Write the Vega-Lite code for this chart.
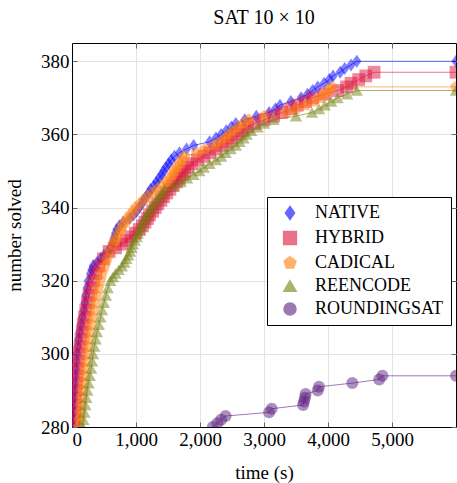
{
  "$schema": "https://vega.github.io/schema/vega-lite/v6.json",
  "autosize": "none",
  "width": 384,
  "height": 384,
  "padding": {"left": 72, "top": 43, "right": 1, "bottom": 56},
  "background": "white",
  "title": {"text": "SAT 10 × 10", "font": "Liberation Serif", "fontSize": 20, "fontWeight": "normal", "color": "black", "offset": 15, "anchor": "middle"},
  "config": {
    "view": {"stroke": "black", "strokeWidth": 1},
    "axis": {"labelFont": "Liberation Serif", "labelFontSize": 19, "labelColor": "black", "titleFont": "Liberation Serif", "titleFontSize": 19, "titleFontWeight": "normal", "titleColor": "black", "gridColor": "#e3e3e3", "gridWidth": 1, "domainColor": "black", "tickColor": "#666", "tickSize": -5, "labelPadding": 8},
    "legend": {"orient": "none", "legendX": 195, "legendY": 154, "strokeColor": "black", "fillColor": "white", "padding": 7, "cornerRadius": 0, "labelFont": "Liberation Serif", "labelFontSize": 18, "labelColor": "black", "symbolSize": 144, "labelOffset": 16, "rowPadding": 5, "symbolOffset": 7}
  },
  "data": {"values": [
    {"s":"Native","t":15,"n":280},{"s":"Native","t":20,"n":282},{"s":"Native","t":25,"n":284},{"s":"Native","t":30,"n":286},{"s":"Native","t":35,"n":288},{"s":"Native","t":40,"n":290},{"s":"Native","t":48,"n":292},{"s":"Native","t":55,"n":294},{"s":"Native","t":62,"n":296},{"s":"Native","t":70,"n":298},{"s":"Native","t":80,"n":300},{"s":"Native","t":92,"n":302},{"s":"Native","t":105,"n":304},{"s":"Native","t":120,"n":306},{"s":"Native","t":140,"n":308},{"s":"Native","t":160,"n":310},{"s":"Native","t":185,"n":312},{"s":"Native","t":200,"n":314},{"s":"Native","t":215,"n":316},{"s":"Native","t":235,"n":318},{"s":"Native","t":255,"n":320},{"s":"Native","t":290,"n":322},{"s":"Native","t":310,"n":323},{"s":"Native","t":330,"n":324},{"s":"Native","t":390,"n":325},{"s":"Native","t":450,"n":326},{"s":"Native","t":500,"n":327},{"s":"Native","t":570,"n":328},{"s":"Native","t":605,"n":329},{"s":"Native","t":630,"n":330},{"s":"Native","t":650,"n":331},{"s":"Native","t":665,"n":332},{"s":"Native","t":680,"n":333},{"s":"Native","t":700,"n":334},{"s":"Native","t":740,"n":335},{"s":"Native","t":800,"n":336},{"s":"Native","t":900,"n":337},{"s":"Native","t":960,"n":338},{"s":"Native","t":1010,"n":339},{"s":"Native","t":1050,"n":340},{"s":"Native","t":1090,"n":341},{"s":"Native","t":1120,"n":342},{"s":"Native","t":1160,"n":343},{"s":"Native","t":1200,"n":344},{"s":"Native","t":1230,"n":345},{"s":"Native","t":1280,"n":346},{"s":"Native","t":1320,"n":347},{"s":"Native","t":1360,"n":348},{"s":"Native","t":1400,"n":349},{"s":"Native","t":1430,"n":350},{"s":"Native","t":1470,"n":351},{"s":"Native","t":1510,"n":352},{"s":"Native","t":1550,"n":353},{"s":"Native","t":1600,"n":354},{"s":"Native","t":1680,"n":355},{"s":"Native","t":1790,"n":356},{"s":"Native","t":1900,"n":357},{"s":"Native","t":2150,"n":358},{"s":"Native","t":2250,"n":359},{"s":"Native","t":2330,"n":360},{"s":"Native","t":2410,"n":361},{"s":"Native","t":2490,"n":362},{"s":"Native","t":2560,"n":363},{"s":"Native","t":2700,"n":364},{"s":"Native","t":2880,"n":365},{"s":"Native","t":3080,"n":366},{"s":"Native","t":3180,"n":367},{"s":"Native","t":3250,"n":368},{"s":"Native","t":3420,"n":369},{"s":"Native","t":3580,"n":370},{"s":"Native","t":3680,"n":371},{"s":"Native","t":3760,"n":372},{"s":"Native","t":3840,"n":373},{"s":"Native","t":3940,"n":374},{"s":"Native","t":4020,"n":375},{"s":"Native","t":4080,"n":376},{"s":"Native","t":4190,"n":377},{"s":"Native","t":4260,"n":378},{"s":"Native","t":4360,"n":379},{"s":"Native","t":4450,"n":380},{"s":"Native","t":6000,"n":380},
    {"s":"Hybrid","t":30,"n":280},{"s":"Hybrid","t":35,"n":282},{"s":"Hybrid","t":40,"n":284},{"s":"Hybrid","t":45,"n":286},{"s":"Hybrid","t":50,"n":288},{"s":"Hybrid","t":55,"n":290},{"s":"Hybrid","t":65,"n":292},{"s":"Hybrid","t":75,"n":294},{"s":"Hybrid","t":85,"n":296},{"s":"Hybrid","t":95,"n":298},{"s":"Hybrid","t":110,"n":300},{"s":"Hybrid","t":125,"n":302},{"s":"Hybrid","t":140,"n":304},{"s":"Hybrid","t":160,"n":306},{"s":"Hybrid","t":175,"n":308},{"s":"Hybrid","t":195,"n":310},{"s":"Hybrid","t":215,"n":312},{"s":"Hybrid","t":240,"n":314},{"s":"Hybrid","t":265,"n":316},{"s":"Hybrid","t":295,"n":318},{"s":"Hybrid","t":330,"n":320},{"s":"Hybrid","t":370,"n":322},{"s":"Hybrid","t":420,"n":324},{"s":"Hybrid","t":490,"n":326},{"s":"Hybrid","t":580,"n":328},{"s":"Hybrid","t":680,"n":329},{"s":"Hybrid","t":780,"n":330},{"s":"Hybrid","t":850,"n":331},{"s":"Hybrid","t":920,"n":332},{"s":"Hybrid","t":990,"n":333},{"s":"Hybrid","t":1050,"n":334},{"s":"Hybrid","t":1100,"n":335},{"s":"Hybrid","t":1140,"n":336},{"s":"Hybrid","t":1180,"n":337},{"s":"Hybrid","t":1210,"n":338},{"s":"Hybrid","t":1260,"n":339},{"s":"Hybrid","t":1300,"n":340},{"s":"Hybrid","t":1340,"n":341},{"s":"Hybrid","t":1390,"n":342},{"s":"Hybrid","t":1430,"n":343},{"s":"Hybrid","t":1480,"n":344},{"s":"Hybrid","t":1530,"n":345},{"s":"Hybrid","t":1580,"n":346},{"s":"Hybrid","t":1630,"n":347},{"s":"Hybrid","t":1680,"n":348},{"s":"Hybrid","t":1720,"n":349},{"s":"Hybrid","t":1760,"n":350},{"s":"Hybrid","t":1810,"n":351},{"s":"Hybrid","t":1870,"n":352},{"s":"Hybrid","t":1960,"n":353},{"s":"Hybrid","t":2060,"n":354},{"s":"Hybrid","t":2150,"n":355},{"s":"Hybrid","t":2250,"n":356},{"s":"Hybrid","t":2350,"n":357},{"s":"Hybrid","t":2430,"n":358},{"s":"Hybrid","t":2500,"n":359},{"s":"Hybrid","t":2580,"n":360},{"s":"Hybrid","t":2660,"n":361},{"s":"Hybrid","t":2740,"n":362},{"s":"Hybrid","t":2850,"n":363},{"s":"Hybrid","t":3000,"n":364},{"s":"Hybrid","t":3150,"n":365},{"s":"Hybrid","t":3280,"n":366},{"s":"Hybrid","t":3420,"n":367},{"s":"Hybrid","t":3520,"n":368},{"s":"Hybrid","t":3650,"n":369},{"s":"Hybrid","t":3760,"n":370},{"s":"Hybrid","t":3950,"n":371},{"s":"Hybrid","t":4150,"n":372},{"s":"Hybrid","t":4290,"n":373},{"s":"Hybrid","t":4360,"n":374},{"s":"Hybrid","t":4480,"n":375},{"s":"Hybrid","t":4590,"n":376},{"s":"Hybrid","t":4720,"n":377},{"s":"Hybrid","t":6000,"n":377},
    {"s":"CaDiCaL","t":110,"n":280},{"s":"CaDiCaL","t":120,"n":282},{"s":"CaDiCaL","t":130,"n":284},{"s":"CaDiCaL","t":140,"n":286},{"s":"CaDiCaL","t":150,"n":288},{"s":"CaDiCaL","t":165,"n":290},{"s":"CaDiCaL","t":175,"n":292},{"s":"CaDiCaL","t":190,"n":294},{"s":"CaDiCaL","t":200,"n":296},{"s":"CaDiCaL","t":215,"n":298},{"s":"CaDiCaL","t":230,"n":300},{"s":"CaDiCaL","t":245,"n":302},{"s":"CaDiCaL","t":260,"n":304},{"s":"CaDiCaL","t":280,"n":306},{"s":"CaDiCaL","t":300,"n":308},{"s":"CaDiCaL","t":320,"n":310},{"s":"CaDiCaL","t":340,"n":312},{"s":"CaDiCaL","t":360,"n":314},{"s":"CaDiCaL","t":385,"n":316},{"s":"CaDiCaL","t":410,"n":318},{"s":"CaDiCaL","t":440,"n":320},{"s":"CaDiCaL","t":470,"n":322},{"s":"CaDiCaL","t":510,"n":324},{"s":"CaDiCaL","t":550,"n":326},{"s":"CaDiCaL","t":590,"n":328},{"s":"CaDiCaL","t":640,"n":330},{"s":"CaDiCaL","t":670,"n":331},{"s":"CaDiCaL","t":700,"n":332},{"s":"CaDiCaL","t":730,"n":333},{"s":"CaDiCaL","t":760,"n":334},{"s":"CaDiCaL","t":790,"n":335},{"s":"CaDiCaL","t":830,"n":336},{"s":"CaDiCaL","t":870,"n":337},{"s":"CaDiCaL","t":910,"n":338},{"s":"CaDiCaL","t":960,"n":339},{"s":"CaDiCaL","t":1000,"n":340},{"s":"CaDiCaL","t":1060,"n":341},{"s":"CaDiCaL","t":1120,"n":342},{"s":"CaDiCaL","t":1180,"n":343},{"s":"CaDiCaL","t":1250,"n":344},{"s":"CaDiCaL","t":1330,"n":345},{"s":"CaDiCaL","t":1420,"n":346},{"s":"CaDiCaL","t":1480,"n":347},{"s":"CaDiCaL","t":1530,"n":348},{"s":"CaDiCaL","t":1570,"n":349},{"s":"CaDiCaL","t":1600,"n":350},{"s":"CaDiCaL","t":1640,"n":351},{"s":"CaDiCaL","t":1680,"n":352},{"s":"CaDiCaL","t":1720,"n":353},{"s":"CaDiCaL","t":1760,"n":354},{"s":"CaDiCaL","t":1950,"n":355},{"s":"CaDiCaL","t":2080,"n":356},{"s":"CaDiCaL","t":2230,"n":357},{"s":"CaDiCaL","t":2330,"n":358},{"s":"CaDiCaL","t":2400,"n":359},{"s":"CaDiCaL","t":2460,"n":360},{"s":"CaDiCaL","t":2530,"n":361},{"s":"CaDiCaL","t":2600,"n":362},{"s":"CaDiCaL","t":2680,"n":363},{"s":"CaDiCaL","t":2760,"n":364},{"s":"CaDiCaL","t":3000,"n":365},{"s":"CaDiCaL","t":3350,"n":366},{"s":"CaDiCaL","t":3500,"n":367},{"s":"CaDiCaL","t":3650,"n":368},{"s":"CaDiCaL","t":3780,"n":369},{"s":"CaDiCaL","t":3880,"n":370},{"s":"CaDiCaL","t":3950,"n":371},{"s":"CaDiCaL","t":4010,"n":372},{"s":"CaDiCaL","t":4060,"n":373},{"s":"CaDiCaL","t":6000,"n":373},
    {"s":"ReEncode","t":165,"n":280},{"s":"ReEncode","t":180,"n":282},{"s":"ReEncode","t":195,"n":284},{"s":"ReEncode","t":210,"n":286},{"s":"ReEncode","t":225,"n":288},{"s":"ReEncode","t":240,"n":290},{"s":"ReEncode","t":260,"n":292},{"s":"ReEncode","t":280,"n":294},{"s":"ReEncode","t":300,"n":296},{"s":"ReEncode","t":315,"n":298},{"s":"ReEncode","t":330,"n":300},{"s":"ReEncode","t":350,"n":302},{"s":"ReEncode","t":370,"n":304},{"s":"ReEncode","t":390,"n":306},{"s":"ReEncode","t":420,"n":308},{"s":"ReEncode","t":445,"n":310},{"s":"ReEncode","t":470,"n":312},{"s":"ReEncode","t":500,"n":314},{"s":"ReEncode","t":530,"n":316},{"s":"ReEncode","t":560,"n":318},{"s":"ReEncode","t":600,"n":320},{"s":"ReEncode","t":640,"n":321},{"s":"ReEncode","t":680,"n":322},{"s":"ReEncode","t":730,"n":323},{"s":"ReEncode","t":780,"n":324},{"s":"ReEncode","t":820,"n":325},{"s":"ReEncode","t":850,"n":326},{"s":"ReEncode","t":880,"n":327},{"s":"ReEncode","t":910,"n":328},{"s":"ReEncode","t":930,"n":329},{"s":"ReEncode","t":950,"n":330},{"s":"ReEncode","t":980,"n":331},{"s":"ReEncode","t":1010,"n":332},{"s":"ReEncode","t":1030,"n":333},{"s":"ReEncode","t":1060,"n":334},{"s":"ReEncode","t":1080,"n":335},{"s":"ReEncode","t":1110,"n":336},{"s":"ReEncode","t":1140,"n":337},{"s":"ReEncode","t":1170,"n":338},{"s":"ReEncode","t":1200,"n":339},{"s":"ReEncode","t":1240,"n":340},{"s":"ReEncode","t":1280,"n":341},{"s":"ReEncode","t":1320,"n":342},{"s":"ReEncode","t":1370,"n":343},{"s":"ReEncode","t":1410,"n":344},{"s":"ReEncode","t":1450,"n":345},{"s":"ReEncode","t":1580,"n":346},{"s":"ReEncode","t":1700,"n":347},{"s":"ReEncode","t":1800,"n":348},{"s":"ReEncode","t":1900,"n":349},{"s":"ReEncode","t":1990,"n":350},{"s":"ReEncode","t":2060,"n":351},{"s":"ReEncode","t":2150,"n":352},{"s":"ReEncode","t":2250,"n":353},{"s":"ReEncode","t":2330,"n":354},{"s":"ReEncode","t":2400,"n":355},{"s":"ReEncode","t":2480,"n":356},{"s":"ReEncode","t":2560,"n":357},{"s":"ReEncode","t":2620,"n":358},{"s":"ReEncode","t":2680,"n":359},{"s":"ReEncode","t":2730,"n":360},{"s":"ReEncode","t":2800,"n":361},{"s":"ReEncode","t":2900,"n":362},{"s":"ReEncode","t":3000,"n":363},{"s":"ReEncode","t":3150,"n":364},{"s":"ReEncode","t":3500,"n":365},{"s":"ReEncode","t":3750,"n":366},{"s":"ReEncode","t":3860,"n":367},{"s":"ReEncode","t":3950,"n":368},{"s":"ReEncode","t":4050,"n":369},{"s":"ReEncode","t":4150,"n":370},{"s":"ReEncode","t":4300,"n":371},{"s":"ReEncode","t":4450,"n":372},{"s":"ReEncode","t":6000,"n":372},
    {"s":"RoundingSAT","t":2200,"n":280},{"s":"RoundingSAT","t":2270,"n":281},{"s":"RoundingSAT","t":2330,"n":282},{"s":"RoundingSAT","t":2400,"n":283},{"s":"RoundingSAT","t":3080,"n":284},{"s":"RoundingSAT","t":3120,"n":285},{"s":"RoundingSAT","t":3610,"n":286},{"s":"RoundingSAT","t":3625,"n":287},{"s":"RoundingSAT","t":3640,"n":288},{"s":"RoundingSAT","t":3650,"n":289},{"s":"RoundingSAT","t":3840,"n":290},{"s":"RoundingSAT","t":3860,"n":291},{"s":"RoundingSAT","t":4380,"n":292},{"s":"RoundingSAT","t":4800,"n":293},{"s":"RoundingSAT","t":4850,"n":294},{"s":"RoundingSAT","t":6000,"n":294}
  ]},
  "layer": [
    {
      "mark": {"type": "line", "strokeWidth": 1, "opacity": 0.6, "clip": true},
      "encoding": {
        "x": {"field": "t", "type": "quantitative", "scale": {"domain": [0, 6000], "nice": false}, "axis": {"title": "time (s)", "values": [0, 1000, 2000, 3000, 4000, 5000], "labelExpr": "format(datum.value, ',')", "grid": true, "titlePadding": 14}},
        "y": {"field": "n", "type": "quantitative", "scale": {"domain": [280, 385], "nice": false, "zero": false}, "axis": {"title": "number solved", "values": [280, 300, 320, 340, 360, 380], "grid": true, "titlePadding": 16}},
        "color": {"field": "s", "type": "nominal", "title": null, "scale": {"domain": ["Native", "Hybrid", "CaDiCaL", "ReEncode", "RoundingSAT"], "range": ["#0000ff", "#dc143c", "#ff7f0e", "#738010", "#5b1f80"]}},
        "detail": {"field": "s"},
        "order": {"field": "n", "type": "quantitative"}
      }
    },
    {
      "mark": {"type": "point", "filled": true, "opacity": 0.5, "strokeWidth": 0, "clip": true},
      "encoding": {
        "x": {"field": "t", "type": "quantitative", "axis": {"orient": "top", "labels": false, "title": null, "grid": false, "domain": false, "values": [0, 1000, 2000, 3000, 4000, 5000]}},
        "y": {"field": "n", "type": "quantitative", "axis": {"orient": "right", "labels": false, "title": null, "grid": false, "domain": false, "values": [280, 300, 320, 340, 360, 380]}},
        "color": {"field": "s", "type": "nominal", "title": null,
          "legend": {"title": null, "labelExpr": "upper(datum.label)",
            "encode": {"symbols": {"update": {
              "fill": {"scale": "color", "field": "value"},
              "stroke": {"scale": "color", "field": "value"},
              "strokeWidth": {"value": 0.8},
              "opacity": {"value": 0.55},
              "shape": {"signal": "datum.value == 'Native' ? 'M-2.8,0L2.8,0M0,-1L0.7,0L0,1L-0.7,0Z' : datum.value == 'Hybrid' ? 'M-2.8,0L2.8,0M-0.85,-0.85L0.85,-0.85L0.85,0.85L-0.85,0.85Z' : datum.value == 'CaDiCaL' ? 'M-2.8,0L2.8,0M0,-0.95L0.9,-0.29L0.56,0.77L-0.56,0.77L-0.9,-0.29Z' : datum.value == 'ReEncode' ? 'M-2.8,0L2.8,0M0,-0.85L0.95,0.75L-0.95,0.75Z' : 'M-2.8,0L2.8,0M-0.9,0A0.9,0.9 0 1,1 0.9,0A0.9,0.9 0 1,1 -0.9,0Z'"}}}}}},
        "shape": {"field": "s", "type": "nominal", "scale": {"domain": ["Native", "Hybrid", "CaDiCaL", "ReEncode", "RoundingSAT"], "range": ["M0,-1L0.7,0L0,1L-0.7,0Z", "square", "M0,-1L0.95,-0.31L0.59,0.81L-0.59,0.81L-0.95,-0.31Z", "triangle-up", "circle"]}, "legend": null},
        "size": {"field": "s", "type": "nominal", "scale": {"domain": ["Native", "Hybrid", "CaDiCaL", "ReEncode", "RoundingSAT"], "range": [169, 144, 150, 130, 120]}, "legend": null}
      }
    }
  ],
  "resolve": {"axis": {"x": "independent", "y": "independent"}}
}
